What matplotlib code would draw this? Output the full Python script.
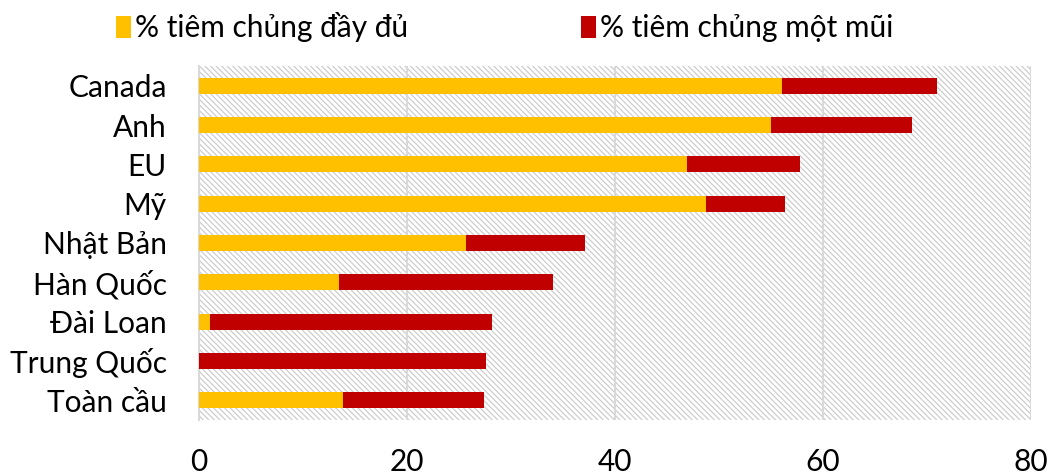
import numpy as np
import matplotlib.pyplot as plt
from matplotlib.patches import Rectangle

plt.rcParams['font.family'] = ['Lato', 'DejaVu Sans']
plt.rcParams['hatch.linewidth'] = 0.8

countries = ["Canada", "Anh", "EU", "Mỹ", "Nhật Bản", "Hàn Quốc", "Đài Loan", "Trung Quốc", "Toàn cầu"]
full_dose = [56.1, 55.0, 46.9, 48.8, 25.7, 13.5, 1.1, 0.0, 13.9]
one_dose = [71.0, 68.6, 57.8, 56.4, 37.1, 34.1, 28.2, 27.6, 27.4]

yellow = "#FFC000"
red = "#C00000"
fs = 21.5

fig = plt.figure(figsize=(10.51, 4.75), dpi=100)
ax = fig.add_axes([0.189, 0.116, 0.792, 0.745])

# hatched plot area
ax.add_patch(Rectangle((0, 0), 1, 1, transform=ax.transAxes, facecolor="none",
                       edgecolor="#c8c8c8", linewidth=0, hatch="\\\\\\\\\\\\", zorder=0))

y = np.arange(len(countries))
ax.barh(y, one_dose, height=0.41, color=red, zorder=3, label="% tiêm chủng một mũi")
ax.barh(y, full_dose, height=0.41, color=yellow, zorder=4, label="% tiêm chủng đầy đủ")

ax.set_ylim(len(countries) - 0.5, -0.5)
ax.set_xlim(0, 80)
ax.set_yticks(y)
ax.set_yticklabels(countries, fontsize=fs)
ax.set_xticks([0, 20, 40, 60, 80])
ax.tick_params(axis="x", labelsize=fs, length=0, pad=20)
ax.tick_params(axis="y", length=0, pad=23)

ax.grid(axis="x", color="#d9d9d9", linewidth=1.5, zorder=1)
ax.set_axisbelow(True)
for side in ["top", "bottom", "right"]:
    ax.spines[side].set_visible(False)
ax.spines["left"].set_color("#d9d9d9")
ax.spines["left"].set_linewidth(1.5)

handles, labels = ax.get_legend_handles_labels()
fig.legend(handles[::-1], labels[::-1], loc="center left", bbox_to_anchor=(0.085, 0.943),
           ncol=2, frameon=False, fontsize=fs, handlelength=0.5, handleheight=0.75,
           handletextpad=0.12, columnspacing=5.8)

fig.savefig("out.png", dpi=100)
